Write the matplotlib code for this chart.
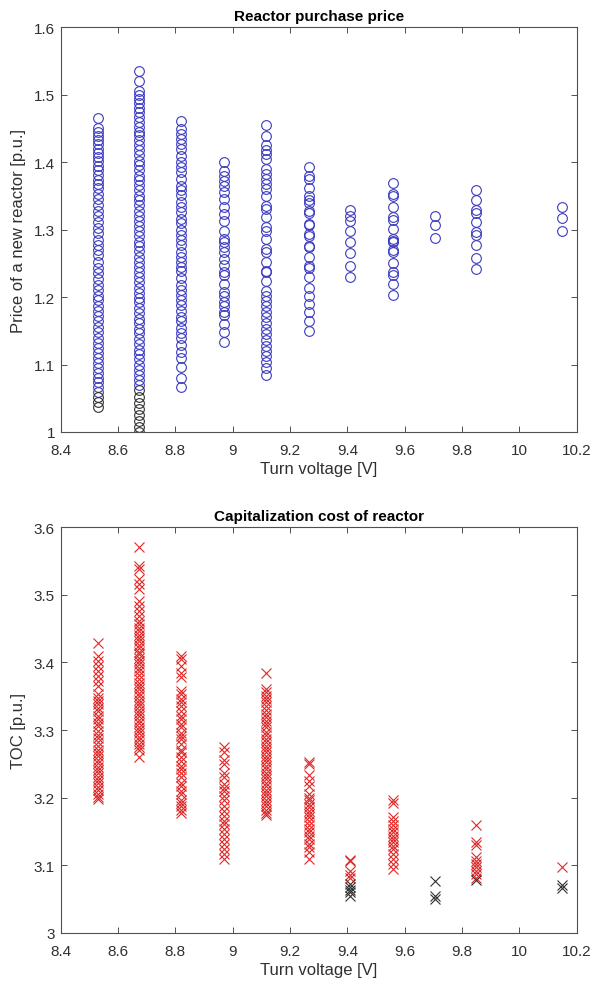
import matplotlib
matplotlib.use('Agg')
import matplotlib.pyplot as plt
from matplotlib.ticker import FuncFormatter

plt.rcParams['font.family'] = ['Liberation Sans', 'DejaVu Sans']

# turn voltages of the design columns
voltages = [8.53, 8.675, 8.82, 8.97, 9.115, 9.265, 9.41, 9.56, 9.705, 9.85, 10.15]

# reactor purchase price [p.u.] per voltage (blue = feasible, black = other)
price_blue = [
    [1.465, 1.450, 1.444, 1.438, 1.433, 1.427, 1.420, 1.414, 1.408, 1.401, 1.394, 1.388,
     1.381, 1.374, 1.368, 1.361, 1.352, 1.345, 1.336, 1.328, 1.320, 1.311, 1.302, 1.295,
     1.285, 1.277, 1.270, 1.262, 1.252, 1.243, 1.235, 1.227, 1.218, 1.210, 1.202, 1.195,
     1.187, 1.180, 1.172, 1.164, 1.155, 1.148, 1.140, 1.132, 1.125, 1.117, 1.110, 1.102,
     1.095, 1.087, 1.080, 1.074, 1.066, 1.059],
    [1.535, 1.520, 1.505, 1.499, 1.493, 1.487, 1.480, 1.474, 1.467, 1.460, 1.452, 1.445,
     1.440, 1.432, 1.425, 1.418, 1.410, 1.402, 1.395, 1.388, 1.380, 1.373, 1.366, 1.358,
     1.350, 1.343, 1.336, 1.328, 1.320, 1.313, 1.305, 1.298, 1.290, 1.282, 1.275, 1.268,
     1.260, 1.252, 1.245, 1.237, 1.230, 1.222, 1.214, 1.206, 1.199, 1.192, 1.184, 1.176,
     1.168, 1.161, 1.153, 1.146, 1.138, 1.130, 1.122, 1.115, 1.108, 1.100, 1.092, 1.085,
     1.077, 1.070],
    [1.461, 1.449, 1.441, 1.434, 1.427, 1.419, 1.409, 1.400, 1.392, 1.385, 1.375, 1.365,
     1.358, 1.351, 1.341, 1.334, 1.326, 1.316, 1.309, 1.299, 1.292, 1.285, 1.277, 1.267,
     1.260, 1.252, 1.245, 1.238, 1.228, 1.218, 1.211, 1.203, 1.196, 1.188, 1.179, 1.171,
     1.164, 1.154, 1.146, 1.139, 1.129, 1.119, 1.109, 1.097, 1.080, 1.066],
    [1.400, 1.387, 1.380, 1.372, 1.365, 1.355, 1.345, 1.333, 1.323, 1.313, 1.298, 1.286,
     1.281, 1.274, 1.266, 1.256, 1.247, 1.237, 1.232, 1.220, 1.207, 1.202, 1.192, 1.187,
     1.178, 1.173, 1.160, 1.148, 1.133],
    [1.455, 1.439, 1.425, 1.418, 1.412, 1.404, 1.389, 1.382, 1.375, 1.367, 1.360, 1.350,
     1.335, 1.330, 1.318, 1.303, 1.298, 1.286, 1.271, 1.266, 1.252, 1.239, 1.237, 1.224,
     1.209, 1.202, 1.194, 1.186, 1.178, 1.170, 1.161, 1.153, 1.145, 1.137, 1.128, 1.120,
     1.112, 1.104, 1.095, 1.085],
    [1.393, 1.379, 1.375, 1.361, 1.349, 1.343, 1.339, 1.328, 1.324, 1.308, 1.306, 1.293,
     1.291, 1.276, 1.274, 1.259, 1.246, 1.243, 1.229, 1.214, 1.202, 1.190, 1.178, 1.165,
     1.150],
    [1.329, 1.320, 1.312, 1.298, 1.281, 1.265, 1.246, 1.229],
    [1.369, 1.352, 1.349, 1.333, 1.318, 1.314, 1.301, 1.286, 1.283, 1.281, 1.269, 1.266,
     1.250, 1.237, 1.233, 1.220, 1.203],
    [1.320, 1.307, 1.288],
    [1.359, 1.344, 1.329, 1.325, 1.311, 1.296, 1.292, 1.277, 1.258, 1.241],
    [1.333, 1.317, 1.298],
]
price_black = [
    [1.052, 1.045, 1.037],
    [1.062, 1.052, 1.043, 1.034, 1.025, 1.016, 1.008, 1.000],
    [], [], [], [], [], [], [], [], [],
]

# capitalization cost TOC [p.u.] per voltage (red = feasible, black = other)
toc_red = [
    [3.428, 3.410, 3.402, 3.395, 3.387, 3.380, 3.372, 3.365, 3.353, 3.348, 3.343, 3.338,
     3.333, 3.328, 3.321, 3.316, 3.311, 3.306, 3.298, 3.293, 3.288, 3.283, 3.276, 3.271,
     3.266, 3.261, 3.256, 3.251, 3.246, 3.241, 3.236, 3.231, 3.226, 3.221, 3.216, 3.211,
     3.206, 3.201, 3.198],
    [3.570, 3.543, 3.538, 3.523, 3.516, 3.508, 3.491, 3.484, 3.476, 3.469, 3.461, 3.456,
     3.451, 3.446, 3.441, 3.436, 3.431, 3.426, 3.421, 3.416, 3.412, 3.407, 3.402, 3.397,
     3.392, 3.387, 3.382, 3.375, 3.370, 3.365, 3.360, 3.355, 3.350, 3.345, 3.340, 3.335,
     3.330, 3.325, 3.320, 3.315, 3.310, 3.305, 3.300, 3.295, 3.290, 3.285, 3.280, 3.275,
     3.270, 3.260],
    [3.410, 3.405, 3.395, 3.385, 3.378, 3.358, 3.353, 3.346, 3.341, 3.336, 3.328, 3.321,
     3.316, 3.309, 3.304, 3.296, 3.291, 3.286, 3.279, 3.271, 3.267, 3.260, 3.254, 3.247,
     3.242, 3.237, 3.230, 3.222, 3.217, 3.210, 3.205, 3.197, 3.192, 3.187, 3.182, 3.178],
    [3.275, 3.268, 3.255, 3.250, 3.237, 3.230, 3.220, 3.215, 3.210, 3.203, 3.196, 3.188,
     3.181, 3.173, 3.166, 3.161, 3.154, 3.146, 3.139, 3.131, 3.124, 3.117, 3.109],
    [3.385, 3.361, 3.356, 3.351, 3.346, 3.341, 3.336, 3.329, 3.324, 3.319, 3.314, 3.309,
     3.304, 3.297, 3.292, 3.287, 3.282, 3.277, 3.272, 3.267, 3.262, 3.257, 3.252, 3.247,
     3.242, 3.237, 3.232, 3.227, 3.222, 3.217, 3.212, 3.207, 3.202, 3.197, 3.192, 3.187,
     3.182, 3.178, 3.174],
    [3.252, 3.250, 3.233, 3.225, 3.218, 3.205, 3.200, 3.196, 3.191, 3.186, 3.181, 3.176,
     3.171, 3.166, 3.159, 3.154, 3.149, 3.144, 3.139, 3.132, 3.127, 3.119, 3.109],
    [3.108, 3.106, 3.091, 3.086, 3.082],
    [3.196, 3.192, 3.171, 3.165, 3.159, 3.154, 3.149, 3.144, 3.139, 3.134, 3.129, 3.124,
     3.117, 3.109, 3.102, 3.095],
    [],
    [3.160, 3.135, 3.130, 3.112, 3.107, 3.102, 3.097, 3.092, 3.087, 3.082],
    [3.098],
]
toc_black = [
    [], [], [], [], [], [],
    [3.072, 3.068, 3.064, 3.060, 3.055],
    [],
    [3.077, 3.054, 3.050],
    [3.078],
    [3.071, 3.067],
]

x_ticks = [8.4, 8.6, 8.8, 9.0, 9.2, 9.4, 9.6, 9.8, 10.0, 10.2]
price_ticks = [1.0, 1.1, 1.2, 1.3, 1.4, 1.5, 1.6]
toc_ticks = [3.0, 3.1, 3.2, 3.3, 3.4, 3.5, 3.6]

fig = plt.figure(figsize=(5.94, 9.87), dpi=100)
ax1 = fig.add_axes([0.102, 0.5613, 0.869, 0.4103])
ax2 = fig.add_axes([0.102, 0.0537, 0.869, 0.4113])

fmt = FuncFormatter(lambda v, p: '%g' % round(v, 2))


def style(ax, yticks, title, ylabel):
    ax.set_xlim(8.4, 10.2)
    ax.set_ylim(yticks[0], yticks[-1])
    ax.set_xticks(x_ticks)
    ax.set_yticks(yticks)
    ax.xaxis.set_major_formatter(fmt)
    ax.yaxis.set_major_formatter(fmt)
    ax.tick_params(direction='in', top=True, right=True, length=4, width=0.7,
                   color='#505050', labelsize=11, labelcolor='#303030')
    ax.tick_params(axis='x', pad=8)
    ax.tick_params(axis='y', pad=4)
    for s in ax.spines.values():
        s.set_color('#505050')
        s.set_linewidth(0.8)
    ax.set_title(title, fontsize=11, fontweight='bold', pad=5)
    ax.set_xlabel('Turn voltage [V]', fontsize=12, color='#303030', labelpad=3)
    ax.set_ylabel(ylabel, fontsize=12, color='#303030', labelpad=6)


for v, blue, black in zip(voltages, price_blue, price_black):
    ax1.plot([v] * len(blue), blue, 'o', ls='none', ms=7, mfc='none',
             mec='#3a3ac0', mew=0.8)
    if black:
        ax1.plot([v] * len(black), black, 'o', ls='none', ms=7, mfc='none',
                 mec='#303030', mew=0.8)

for v, red, black in zip(voltages, toc_red, toc_black):
    if red:
        ax2.plot([v] * len(red), red, 'x', ls='none', ms=6.5, mec='#e02828', mew=0.8)
    if black:
        ax2.plot([v] * len(black), black, 'x', ls='none', ms=6.5, mec='#303030', mew=0.8)

style(ax1, price_ticks, 'Reactor purchase price', 'Price of a new reactor [p.u.]')
style(ax2, toc_ticks, 'Capitalization cost of reactor', 'TOC [p.u.]')

fig.savefig('out.png', dpi=100)
